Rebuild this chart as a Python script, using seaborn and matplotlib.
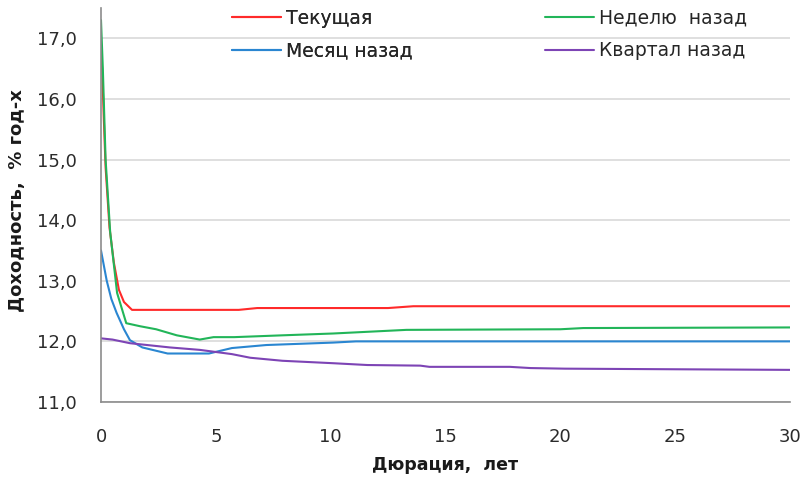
import matplotlib
matplotlib.use("Agg")
import matplotlib.pyplot as plt
import matplotlib.ticker as mticker
import seaborn as sns
import pandas as pd

# ---- data ----
names = ["Текущая", "Неделю  назад", "Месяц назад", "Квартал назад"]

cur_x = [0, 0.05, 0.12, 0.2, 0.37, 0.56, 0.78, 1.0, 1.35, 6.0, 6.8, 12.5, 13.6, 30]
cur_y = [16.8, 16.5, 15.7, 14.87, 13.88, 13.3, 12.85, 12.65, 12.52, 12.52, 12.55, 12.55, 12.58, 12.58]

week_x = [0, 0.08, 0.2, 0.4, 0.7, 1.1, 1.7, 2.4, 3.3, 4.3, 4.9, 5.8, 7.9, 10.1, 13.3, 20.0, 21.0, 30]
week_y = [17.3, 16.5, 15.0, 13.8, 12.8, 12.3, 12.25, 12.2, 12.1, 12.03, 12.07, 12.07, 12.1, 12.13, 12.19, 12.2, 12.22, 12.23]

month_x = [0, 0.1, 0.25, 0.45, 0.68, 1.0, 1.26, 1.8, 2.9, 4.7, 5.7, 7.2, 10.1, 11.1, 30]
month_y = [13.5, 13.3, 13.0, 12.7, 12.47, 12.2, 12.02, 11.9, 11.8, 11.8, 11.89, 11.94, 11.98, 12.0, 12.0]

qtr_x = [0, 0.5, 1.26, 3.0, 4.3, 4.9, 5.7, 6.5, 7.9, 10.1, 11.6, 13.9, 14.3, 17.8, 18.7, 20.2, 25, 30]
qtr_y = [12.05, 12.03, 11.97, 11.9, 11.86, 11.83, 11.79, 11.73, 11.68, 11.64, 11.61, 11.6, 11.58, 11.58, 11.56, 11.55, 11.54, 11.53]

colors = ["#ff2a2a", "#22b559", "#2a86d1", "#7d44b5"]

x_ticks = [0, 5, 10, 15, 20, 25, 30]
y_ticks = [11, 12, 13, 14, 15, 16, 17]

frames = []
for n, xs, ys in zip(names, [cur_x, week_x, month_x, qtr_x], [cur_y, week_y, month_y, qtr_y]):
    frames.append(pd.DataFrame({"x": xs, "y": ys, "series": n}))
df = pd.concat(frames, ignore_index=True)

sns.set_style("white")
plt.rcParams["font.family"] = ["DejaVu Sans"]

fig = plt.figure(figsize=(8.05, 4.79), dpi=100)
ax = fig.add_axes([101 / 805, 1 - 402 / 479, 689 / 805, 394 / 479])

sns.lineplot(data=df, x="x", y="y", hue="series", hue_order=names,
             palette=dict(zip(names, colors)), estimator=None, sort=False,
             linewidth=1.5, legend=False, ax=ax)

ax.set_xlim(0, 30)
ax.set_ylim(11, 17.5)
ax.set_xticks(x_ticks)
ax.set_yticks(y_ticks)
ax.yaxis.set_major_formatter(mticker.FuncFormatter(lambda v, p: f"{v:.1f}".replace(".", ",")))
ax.grid(axis="y", color="#d9d9d9", linewidth=1.2)
ax.set_axisbelow(True)
for s in ["top", "right"]:
    ax.spines[s].set_visible(False)
for s in ["left", "bottom"]:
    ax.spines[s].set_color("#8c8c8c")
    ax.spines[s].set_linewidth(1.2)
ax.tick_params(axis="both", direction="out", length=5, width=1.2, color="#8c8c8c",
               labelsize=13, labelcolor="#2b2b2b")
ax.tick_params(axis="y", pad=12.5)
ax.tick_params(axis="x", pad=13.5)
ax.set_xlabel("Дюрация,  лет", fontsize=12.5, fontweight="bold", color="#1a1a1a")
ax.set_ylabel("Доходность,  % год-х", fontsize=13, fontweight="bold", color="#1a1a1a")
ax.xaxis.set_label_coords(0.5, -(456 - 402) / 394)
ax.yaxis.set_label_coords(-(101 - 26) / 689, 0.51)

lines = ax.get_lines()
h = {n: l for n, l in zip(names, lines)}
common = dict(loc="upper left", frameon=False, fontsize=13.5, handlelength=2.6,
              handletextpad=0.3, labelspacing=0.72, borderaxespad=0, borderpad=0)
leg1 = fig.legend([h[names[0]], h[names[2]]], [names[0], names[2]],
                  bbox_to_anchor=(232 / 805, 1 - 9 / 479), **common)
leg2 = fig.legend([h[names[1]], h[names[3]]], [names[1], names[3]],
                  bbox_to_anchor=(545 / 805, 1 - 9 / 479), **common)
fig.add_artist(leg1)

fig.savefig("out.png", dpi=100)
